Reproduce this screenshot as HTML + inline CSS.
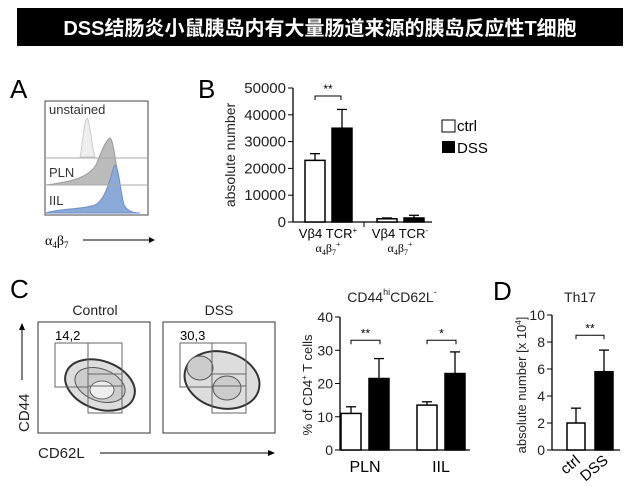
<!DOCTYPE html>
<html><head><meta charset="utf-8"><style>
body{margin:0;background:#fff;}
svg{display:block;font-family:"Liberation Sans",Arial,sans-serif;}
</style></head><body>
<svg id="fig" width="641" height="487" viewBox="0 0 641 487">
<rect x="17" y="8" width="606" height="38" fill="#000"/>
<text x="320" y="35" text-anchor="middle" fill="#fff" font-size="20" font-weight="bold" font-family="'Liberation Sans','Noto Sans CJK SC',sans-serif">DSS结肠炎小鼠胰岛内有大量肠道来源的胰岛反应性T细胞</text>

<!-- Panel A -->
<text x="10" y="98" font-size="26">A</text>
<g>
<rect x="45" y="101" width="103" height="114" fill="#fff" stroke="#444" stroke-width="1"/>
<path d="M80,157 C82,150 84,120 87,118 C90,120 92,150 95,157 Z" fill="#eee" stroke="#ccc"/>
<path d="M46,185 C70,182 88,178 96,165 C102,150 106,140 110,138 C114,140 116,170 120,185 Z" fill="#bbb" stroke="#999"/>
<path d="M46,213 C60,208 80,210 95,205 C105,200 110,180 114,166 C118,160 120,190 124,205 C128,212 134,213 140,213 Z" fill="#8aa9d6" stroke="#6b8fc7"/>
<line x1="45" y1="158" x2="148" y2="158" stroke="#aaa"/>
<line x1="45" y1="185" x2="148" y2="185" stroke="#aaa"/>
<text x="49" y="114" font-size="13" fill="#333">unstained</text>
<text x="49" y="177" font-size="13" fill="#333">PLN</text>
<text x="49" y="205" font-size="13" fill="#333">IIL</text>
</g>
<text x="45" y="245" font-size="14" font-family="'Liberation Serif',serif">α<tspan font-size="9" dy="3">4</tspan><tspan dy="-3">β</tspan><tspan font-size="9" dy="3">7</tspan></text>
<line x1="83" y1="240" x2="150" y2="240" stroke="#000"/><path d="M155,240 l-6,-3 v6z" fill="#000"/>

<!-- Panel B -->
<text x="198" y="98" font-size="26">B</text>
<g id="chartB"></g>
<g>
<rect x="442" y="120" width="13" height="12" fill="#fff" stroke="#000"/>
<text x="457" y="131" font-size="15">ctrl</text>
<rect x="442" y="141" width="13" height="12" fill="#000"/>
<text x="457" y="153" font-size="15">DSS</text>
</g>

<!-- Panel C -->
<text x="10" y="298" font-size="26">C</text>
<text x="95" y="315" font-size="14" text-anchor="middle" fill="#222">Control</text>
<text x="219" y="315" font-size="14" text-anchor="middle" fill="#222">DSS</text>
<g>
<rect x="38" y="322" width="112" height="111" fill="#fff" stroke="#333"/>
<ellipse cx="100" cy="385" rx="36" ry="24" fill="#ddd" stroke="#333" stroke-width="2" transform="rotate(20 100 385)"/>
<ellipse cx="100" cy="385" rx="26" ry="16" fill="#ccc" stroke="#555" transform="rotate(20 100 385)"/>
<ellipse cx="102" cy="390" rx="12" ry="9" fill="#eee" stroke="#666"/>
<rect x="55" y="343" width="33" height="44" fill="none" stroke="#666"/>
<rect x="88" y="343" width="34" height="43" fill="none" stroke="#666"/>
<rect x="88" y="374" width="34" height="39" fill="none" stroke="#666"/>
<text x="55" y="340" font-size="13">14,2</text>
</g>
<g>
<rect x="163" y="322" width="112" height="111" fill="#fff" stroke="#333"/>
<ellipse cx="222" cy="380" rx="38" ry="28" fill="#ddd" stroke="#333" stroke-width="2" transform="rotate(15 222 380)"/>
<ellipse cx="200" cy="368" rx="13" ry="12" fill="#ccc" stroke="#555"/>
<ellipse cx="227" cy="388" rx="14" ry="12" fill="#ccc" stroke="#555"/>
<rect x="180" y="343" width="32" height="44" fill="none" stroke="#666"/>
<rect x="212" y="343" width="34" height="43" fill="none" stroke="#666"/>
<rect x="212" y="374" width="34" height="39" fill="none" stroke="#666"/>
<text x="180" y="340" font-size="13">30,3</text>
</g>
<text transform="translate(29,432) rotate(-90)" font-size="15" fill="#222">CD44</text>
<line x1="22" y1="380" x2="22" y2="330" stroke="#000"/><path d="M22,323 l-3,7 h6z" fill="#000"/>
<text x="38" y="458" font-size="15" fill="#222">CD62L</text>
<line x1="100" y1="453" x2="268" y2="453" stroke="#000"/><path d="M275,453 l-7,-3 v6z" fill="#000"/>
<text x="392" y="302" font-size="14" text-anchor="middle" fill="#222">CD44<tspan font-size="9" dy="-7">hi</tspan><tspan dy="7">CD62L</tspan><tspan font-size="9" dy="-7">-</tspan></text>
<g id="chartC"></g>

<!-- Panel D -->
<text x="493" y="300" font-size="26">D</text>
<text x="580" y="302" font-size="14" text-anchor="middle" fill="#222">Th17</text>
<g id="chartD"></g>
</svg>
<script>
const NS="http://www.w3.org/2000/svg";
const bCats=["Vβ4 TCR+ α4β7+","Vβ4 TCR- α4β7+"];
const bCtrl=[23000,1200];
const bCtrlErr=[2500,300];
const bDss=[35000,1500];
const bDssErr=[7000,1000];
const bTicks=[0,10000,20000,30000,40000,50000];

const cCats=["PLN","IIL"];
const cCtrl=[11,13.5];
const cCtrlErr=[2,1];
const cDss=[21.5,23];
const cDssErr=[6,6.5];
const cTicks=[0,10,20,30,40];
const cSig=["**","*"];

const dCats=["ctrl","DSS"];
const dVals=[2.0,5.8];
const dErr=[1.1,1.6];
const dTicks=[0,2,4,6,8,10];

function mk(parent,tag,attrs){const e=document.createElementNS(NS,tag);for(const k in attrs)e.setAttribute(k,attrs[k]);parent.appendChild(e);return e;}
function yScale(min,max,py0,py1){return v=>py0+(v-min)/(max-min)*(py1-py0);}
function axisY(g,x,y,ticks,fs){
  mk(g,"line",{x1:x,y1:y(ticks[0]),x2:x,y2:y(ticks[ticks.length-1]),stroke:"#000","stroke-width":1.3});
  ticks.forEach(t=>{mk(g,"line",{x1:x-5,y1:y(t),x2:x,y2:y(t),stroke:"#000"});
    const tx=mk(g,"text",{x:x-7,y:y(t)+5,"text-anchor":"end","font-size":fs,fill:"#222"});tx.textContent=t;
    
    });
}
function bar(g,x,w,y,v,e,fill,name){
  mk(g,"line",{x1:x+w/2,y1:y(v),x2:x+w/2,y2:y(v+e),stroke:"#000","stroke-width":1.3});
  mk(g,"line",{x1:x+w/2-5,y1:y(v+e),x2:x+w/2+5,y2:y(v+e),stroke:"#000","stroke-width":1.3});
  const r=mk(g,"rect",{x:x,y:y(v),width:w,height:y(0)-y(v),fill:fill,stroke:"#000","stroke-width":1.5});
  
  
}
function sig(g,x1,x2,yy,txt){
  mk(g,"path",{d:`M${x1},${yy+4}V${yy}H${x2}V${yy+4}`,fill:"none",stroke:"#000"});
  const t=mk(g,"text",{x:(x1+x2)/2,y:yy-3,"text-anchor":"middle","font-size":12});t.textContent=txt;
}
// Chart B
(function(){
  const g=document.getElementById("chartB");const y=yScale(0,50000,222,88);
  axisY(g,293,y,bTicks,15);
  mk(g,"line",{x1:293,y1:222,x2:432,y2:222,stroke:"#000","stroke-width":1.3});
  mk(g,"line",{x1:364,y1:222,x2:364,y2:227,stroke:"#000"});
  const x0=[305,377];
  bCats.forEach((c,i)=>{
    bar(g,x0[i],20,y,bCtrl[i],bCtrlErr[i],"#fff","bar-ctrl-"+i);
    bar(g,x0[i]+27,20,y,bDss[i],bDssErr[i],"#000","bar-dss-"+i);
    const p=c.split(" ");
    const t=mk(g,"text",{x:x0[i]+23,y:238,"text-anchor":"middle","font-size":13});
    t.innerHTML=`${p[0]} TCR<tspan font-size="8" dy="-5">${p[1].slice(3)}</tspan>`;
    const t2=mk(g,"text",{x:x0[i]+23,y:252,"text-anchor":"middle","font-size":12,"font-family":"Liberation Serif,serif"});
    t2.innerHTML='α<tspan font-size="8" dy="3">4</tspan><tspan dy="-3">β</tspan><tspan font-size="8" dy="3">7</tspan><tspan font-size="8" dy="-8">+</tspan>';
  });
  sig(g,315,341,y(47000),"**");
  const yl=mk(g,"text",{transform:"translate(235,155) rotate(-90)","text-anchor":"middle","font-size":14,fill:"#222"});yl.textContent="absolute number";
})();
// Chart C
(function(){
  const g=document.getElementById("chartC");const y=yScale(0,40,450,317);
  axisY(g,340,y,cTicks,14);
  mk(g,"line",{x1:340,y1:450,x2:470,y2:450,stroke:"#000","stroke-width":1.3});
  const x0=[341,417];
  cCats.forEach((c,i)=>{
    bar(g,x0[i],20,y,cCtrl[i],cCtrlErr[i],"#fff","bar-ctrl-"+c);
    bar(g,x0[i]+28,20,y,cDss[i],cDssErr[i],"#000","bar-dss-"+c);
    const t=mk(g,"text",{x:x0[i]+24,y:472,"text-anchor":"middle","font-size":16});t.textContent=c;
    sig(g,x0[i]+10,x0[i]+39,y(33),cSig[i]);
  });
  const yl=mk(g,"text",{transform:"translate(312,385) rotate(-90)","text-anchor":"middle","font-size":13,fill:"#222"});
  yl.innerHTML='% of CD4<tspan font-size="8" dy="-5">+</tspan><tspan dy="5"> T cells</tspan>';
})();
// Chart D
(function(){
  const g=document.getElementById("chartD");const y=yScale(0,10,450,315);
  axisY(g,552,y,dTicks,14);
  mk(g,"line",{x1:552,y1:450,x2:620,y2:450,stroke:"#000","stroke-width":1.3});
  const x0=[567,595];const fills=["#fff","#000"];
  dCats.forEach((c,i)=>{
    bar(g,x0[i],18,y,dVals[i],dErr[i],fills[i],"bar-"+c);
    const t=mk(g,"text",{transform:`translate(${x0[i]+14},462) rotate(-40)`,"text-anchor":"end","font-size":15});t.textContent=c;
  });
  sig(g,576,604,y(8.5),"**");
  const yl=mk(g,"text",{transform:"translate(526,385) rotate(-90)","text-anchor":"middle","font-size":13,fill:"#222"});
  yl.innerHTML='absolute number [x 10<tspan font-size="8" dy="-5">4</tspan><tspan dy="5">]</tspan>';
})();
</script>
</body></html>
